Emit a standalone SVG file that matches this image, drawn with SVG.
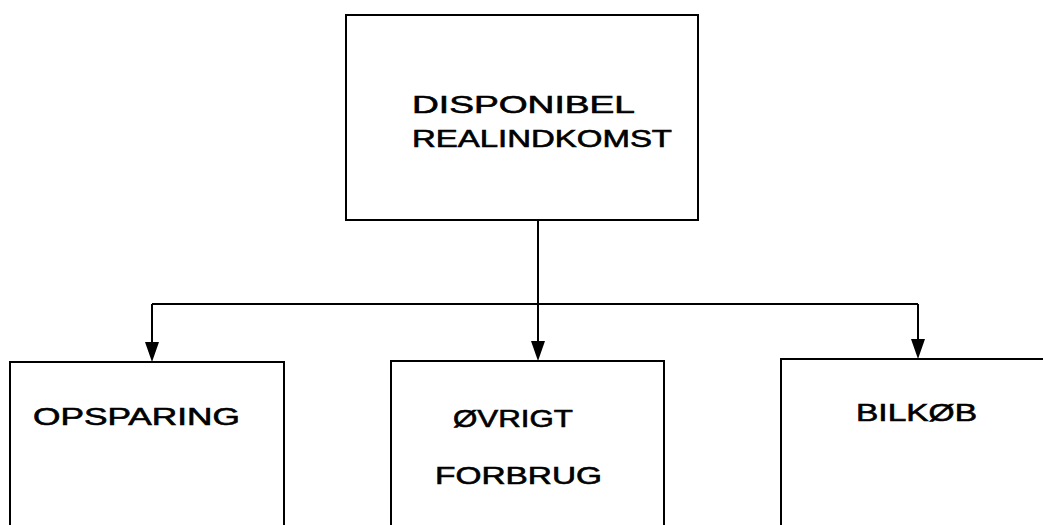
<svg xmlns="http://www.w3.org/2000/svg" width="1043" height="525" viewBox="0 0 1043 525">
<style>
.box{fill:none;stroke:#000;stroke-width:2}
.ln{fill:none;stroke:#000;stroke-width:2}
text{font-family:"Liberation Sans",Arial,sans-serif;font-size:24px;fill:#000;stroke:#000;stroke-width:0.6}
</style>
<rect width="1043" height="525" fill="#fff"/>
<g id="connectors">
<line class="ln" x1="538" y1="220" x2="538" y2="304"/>
<line class="ln" x1="152" y1="304" x2="918" y2="304"/>
<path class="ln" d="M152,304 V342"/>
<path d="M145,342 L159,342 L152,362 Z" fill="#000"/>
<path class="ln" d="M538,304 V341"/>
<path d="M531,341 L545,341 L538,361 Z" fill="#000"/>
<path class="ln" d="M918,304 V339"/>
<path d="M911,339 L925,339 L918,359 Z" fill="#000"/>
</g>
<g id="node-disponibel">
<rect class="box" x="346" y="15" width="352" height="205"/>
<text x="412" y="113" textLength="223" lengthAdjust="spacingAndGlyphs">DISPONIBEL</text>
<text x="412" y="147" textLength="260" lengthAdjust="spacingAndGlyphs">REALINDKOMST</text>
</g>
<g id="node-opsparing">
<path class="box" d="M10,525 V362 H284 V525"/>
<text x="33" y="425" textLength="207" lengthAdjust="spacingAndGlyphs">OPSPARING</text>
</g>
<g id="node-ovrigt">
<path class="box" d="M391,525 V361 H664 V525"/>
<text x="453" y="427" textLength="120" lengthAdjust="spacingAndGlyphs">ØVRIGT</text>
<text x="435" y="484" textLength="167" lengthAdjust="spacingAndGlyphs">FORBRUG</text>
</g>
<g id="node-bilkob">
<path class="box" d="M781,525 V359 H1043"/>
<text x="856" y="421" textLength="121" lengthAdjust="spacingAndGlyphs">BILKØB</text>
</g>
</svg>
